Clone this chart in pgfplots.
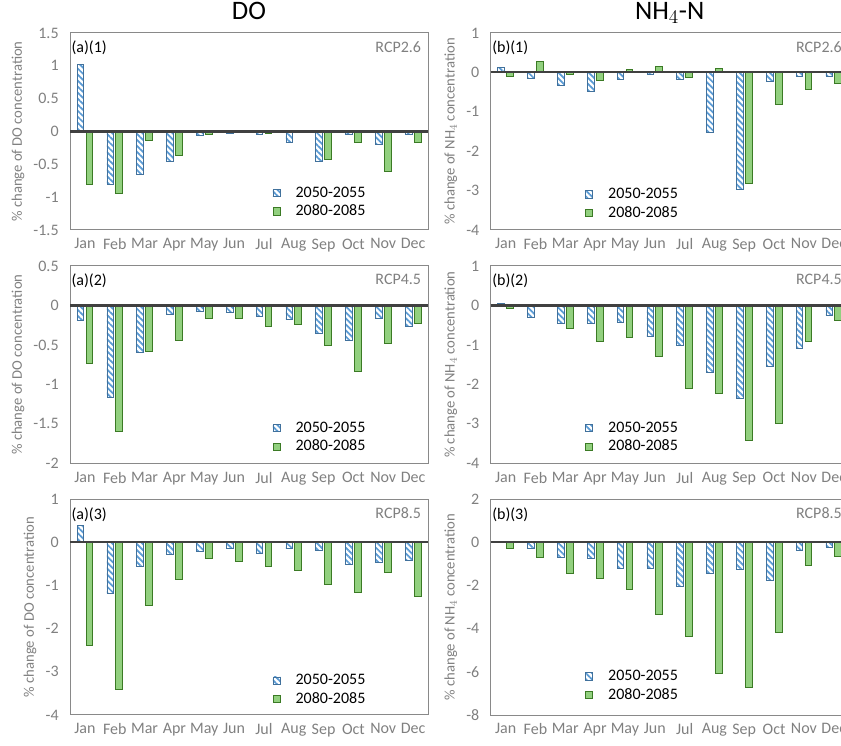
\documentclass[border=0pt]{standalone}
\usepackage{fontspec}
\setmainfont{Carlito}
\usepackage{pgfplots}
\pgfplotsset{compat=1.18}
\usetikzlibrary{patterns.meta}
\definecolor{framegray}{HTML}{898989}
\definecolor{labgray}{HTML}{808080}
\definecolor{zerogray}{HTML}{404040}
\definecolor{edgeblue}{HTML}{41719C}
\definecolor{hatchblue}{HTML}{5B9BD5}
\definecolor{fillgreen}{HTML}{92D07F}
\definecolor{edgegreen}{HTML}{3B7A25}
\pgfplotsset{
  panel/.style={
    scale only axis, width=268.5pt, anchor=north west,
    xmin=-0.5, xmax=11.5, xtick={0,...,11},
    xticklabels={Jan,Feb,Mar,Apr,May,Jun,Jul,Aug,Sep,Oct,Nov,Dec},
    major tick length=0pt, ybar, bar width=0.225,
    axis line style={draw=framegray, line width=0.75pt},
    tick label style={text=labgray, font=\fontsize{12}{14}\selectfont},
    xticklabel style={yshift=-3pt},
    yticklabel style={xshift=-5pt},
    ylabel style={text=labgray, font=\fontsize{11}{13}\selectfont},
    title style={font=\fontsize{20}{24}\selectfont, text=black, at={(0.5,1)}, anchor=base, yshift=4pt},
    legend style={draw=none, fill=none, font=\fontsize{12}{14}\selectfont,
      anchor=north west, row sep=0.5pt, column sep=5pt, inner sep=0pt},
    legend cell align=left,
    legend image code/.code={\draw[##1] (0pt,-2.7pt) rectangle (5.4pt,2.7pt);
      \path[draw=none,fill=none] (0pt,0pt) -- (10pt,0pt);},
  },
  bluebar/.style={draw=edgeblue, line width=0.6pt,
    pattern={Lines[angle=-45,distance=3.2pt,line width=1.3pt]}, pattern color=hatchblue,
    bar shift=-0.15},
  greenbar/.style={draw=edgegreen, fill=fillgreen, line width=0.6pt, bar shift=0.15},
}
\newcommand{\zeroline}{\draw[zerogray, line width=1.6pt] (axis cs:-0.5,0) -- (axis cs:11.5,0);}
\newcommand{\plab}[1]{\node[anchor=north west, inner sep=0pt, font=\fontsize{12}{14}\selectfont] at ([xshift=1pt,yshift=-6pt]rel axis cs:0,1) {#1};}
\newcommand{\rcp}[1]{\node[anchor=north east, inner sep=0pt, text=labgray, font=\fontsize{12}{14}\selectfont] at ([xshift=-5pt,yshift=-6pt]rel axis cs:1,1) {#1};}
\begin{document}
\begin{tikzpicture}
\path[use as bounding box] (0pt,0pt) rectangle (630.75pt,558.75pt);
\clip (0pt,0pt) rectangle (630.75pt,558.75pt);
% (a)(1)
\begin{axis}[panel, at={(52.5pt,534pt)}, height=147.75pt,
  ymin=-1.5, ymax=1.5, ytick={-1.5,-1,-0.5,0,0.5,1,1.5},
  yticklabels={-1.5,-1,-0.5,0,0.5,1,1.5},
  ylabel={\% change of DO concentration}, title={DO},
  legend style={at={(0.565,0.235)}}]
\addplot[bluebar] coordinates {(0,1.02) (1,-0.80) (2,-0.65) (3,-0.45) (4,-0.066) (5,-0.025) (6,-0.04) (7,-0.17) (8,-0.45) (9,-0.04) (10,-0.19) (11,-0.04)};
\addplot[greenbar] coordinates {(0,-0.81) (1,-0.94) (2,-0.13) (3,-0.36) (4,-0.04) (5,-0.01) (6,-0.035) (7,0) (8,-0.42) (9,-0.17) (10,-0.61) (11,-0.17)};
\legend{2050-2055,2080-2085}
\zeroline
\plab{(a)(1)}\rcp{RCP2.6}
\end{axis}
% (b)(1)
\begin{axis}[panel, at={(368pt,534pt)}, height=147.75pt,
  ymin=-4, ymax=1, ytick={-4,-3,-2,-1,0,1},
  yticklabels={-4,-3,-2,-1,0,1},
  ylabel={\% change of NH$_4$ concentration}, title={NH$_4$-N},
  legend style={at={(0.263,0.227)}}]
\addplot[bluebar] coordinates {(0,0.13) (1,-0.15) (2,-0.32) (3,-0.47) (4,-0.17) (5,-0.04) (6,-0.17) (7,-1.52) (8,-2.97) (9,-0.23) (10,-0.10) (11,-0.10)};
\addplot[greenbar] coordinates {(0,-0.10) (1,0.28) (2,-0.04) (3,-0.20) (4,0.08) (5,0.16) (6,-0.12) (7,0.10) (8,-2.81) (9,-0.81) (10,-0.44) (11,-0.28)};
\legend{2050-2055,2080-2085}
\zeroline
\plab{(b)(1)}\rcp{RCP2.6}
\end{axis}
% (a)(2)
\begin{axis}[panel, at={(52.5pt,359.25pt)}, height=148pt,
  ymin=-2, ymax=0.5, ytick={-2,-1.5,-1,-0.5,0,0.5},
  yticklabels={-2,-1.5,-1,-0.5,0,0.5},
  ylabel={\% change of DO concentration},
  legend style={at={(0.565,0.226)}}]
\addplot[bluebar] coordinates {(0,-0.19) (1,-1.16) (2,-0.60) (3,-0.11) (4,-0.08) (5,-0.09) (6,-0.14) (7,-0.18) (8,-0.35) (9,-0.44) (10,-0.16) (11,-0.26)};
\addplot[greenbar] coordinates {(0,-0.73) (1,-1.60) (2,-0.58) (3,-0.44) (4,-0.16) (5,-0.16) (6,-0.27) (7,-0.24) (8,-0.51) (9,-0.84) (10,-0.48) (11,-0.23)};
\legend{2050-2055,2080-2085}
\zeroline
\plab{(a)(2)}\rcp{RCP4.5}
\end{axis}
% (b)(2)
\begin{axis}[panel, at={(368pt,359.25pt)}, height=148pt,
  ymin=-4, ymax=1, ytick={-4,-3,-2,-1,0,1},
  yticklabels={-4,-3,-2,-1,0,1},
  ylabel={\% change of NH$_4$ concentration},
  legend style={at={(0.263,0.226)}}]
\addplot[bluebar] coordinates {(0,0.05) (1,-0.30) (2,-0.45) (3,-0.45) (4,-0.43) (5,-0.79) (6,-1.00) (7,-1.70) (8,-2.36) (9,-1.55) (10,-1.09) (11,-0.25)};
\addplot[greenbar] coordinates {(0,-0.07) (1,-0.01) (2,-0.57) (3,-0.90) (4,-0.82) (5,-1.29) (6,-2.11) (7,-2.22) (8,-3.42) (9,-2.98) (10,-0.90) (11,-0.39)};
\legend{2050-2055,2080-2085}
\zeroline
\plab{(b)(2)}\rcp{RCP4.5}
\end{axis}
% (a)(3)
\begin{axis}[panel, at={(52.5pt,184.3pt)}, height=161.8pt,
  ymin=-4, ymax=1, ytick={-4,-3,-2,-1,0,1},
  yticklabels={-4,-3,-2,-1,0,1},
  ylabel={\% change of DO concentration},
  legend style={at={(0.565,0.202)}}]
\addplot[bluebar] coordinates {(0,0.39) (1,-1.18) (2,-0.56) (3,-0.27) (4,-0.20) (5,-0.14) (6,-0.26) (7,-0.15) (8,-0.19) (9,-0.51) (10,-0.47) (11,-0.42)};
\addplot[greenbar] coordinates {(0,-2.39) (1,-3.41) (2,-1.47) (3,-0.85) (4,-0.38) (5,-0.43) (6,-0.56) (7,-0.66) (8,-0.98) (9,-1.17) (10,-0.70) (11,-1.24)};
\legend{2050-2055,2080-2085}
\zeroline
\plab{(a)(3)}\rcp{RCP8.5}
\end{axis}
% (b)(3)
\begin{axis}[panel, at={(368pt,184.3pt)}, height=161.8pt,
  ymin=-8, ymax=2, ytick={-8,-6,-4,-2,0,2},
  yticklabels={-8,-6,-4,-2,0,2},
  ylabel={\% change of NH$_4$ concentration},
  legend style={at={(0.263,0.221)}}]
\addplot[bluebar] coordinates {(0,0.03) (1,-0.26) (2,-0.70) (3,-0.74) (4,-1.21) (5,-1.22) (6,-2.06) (7,-1.44) (8,-1.25) (9,-1.76) (10,-0.36) (11,-0.23)};
\addplot[greenbar] coordinates {(0,-0.29) (1,-0.68) (2,-1.42) (3,-1.67) (4,-2.16) (5,-3.34) (6,-4.36) (7,-6.06) (8,-6.71) (9,-4.19) (10,-1.05) (11,-0.63)};
\legend{2050-2055,2080-2085}
\zeroline
\plab{(b)(3)}\rcp{RCP8.5}
\end{axis}
\end{tikzpicture}
\end{document}
